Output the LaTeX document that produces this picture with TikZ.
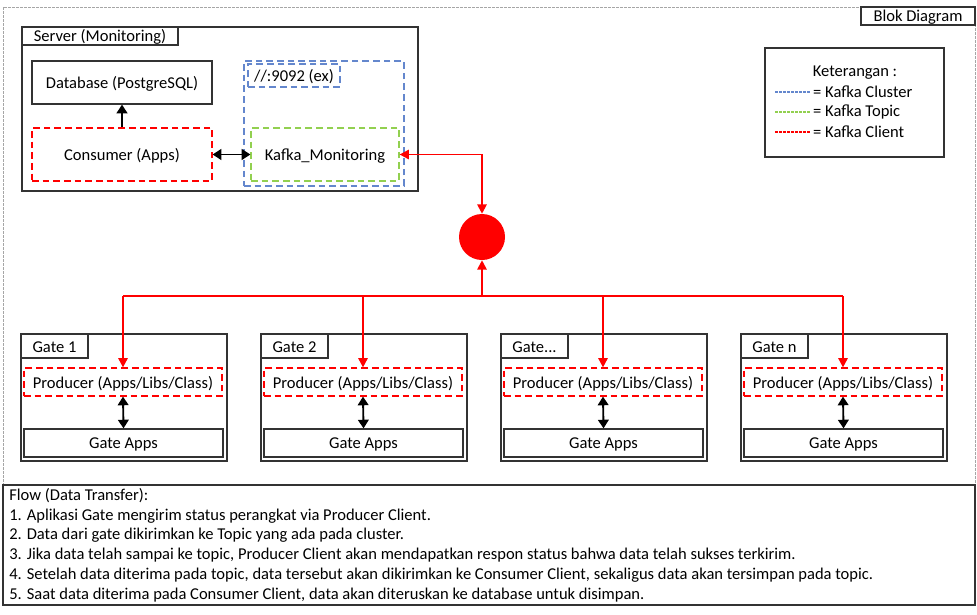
\documentclass[tikz,border=0pt]{standalone}
\usepackage{fontspec}
\setmainfont{Carlito}
\usetikzlibrary{arrows.meta,fit,positioning}

\definecolor{clusterblue}{RGB}{100,135,205}
\definecolor{topicgreen}{RGB}{146,208,80}
\newcommand{\gatemore}{Gate...}

\tikzset{
  box/.style={draw=black!80, line width=0.9pt, inner sep=0pt},
  client/.style={draw=red, dash pattern=on 5pt off 3pt, line width=0.9pt, inner sep=0pt},
  cluster/.style={draw=clusterblue, dash pattern=on 5pt off 3pt, line width=0.9pt, inner sep=0pt},
  topic/.style={draw=topicgreen, dash pattern=on 5pt off 3pt, line width=0.9pt, inner sep=0pt},
  redline/.style={draw=red, line width=1.4pt},
  blkline/.style={draw=black, line width=1.4pt, >={Triangle[length=6.5pt,width=8pt]}},
  legline/.style={line width=0.8pt, dash pattern=on 2.2pt off 0.8pt},
  every label/.append style={yshift=-1pt},
  >={Triangle[length=7pt,width=7pt]}
}

\begin{document}
\begin{tikzpicture}[x=0.75pt, y=-0.75pt, font=\fontsize{12.4pt}{14pt}\selectfont]
\useasboundingbox (0,0) rectangle (977,614);
\draw[black!35, dash pattern=on 2pt off 1pt] (3,7) rectangle (975,605);

\node[box, fit={(861,7) (975,25)}, label={center:Blok Diagram}] (title) {};

% server
\node[box, fit={(22,27) (418,191)}] (server) {};
\node[box, fit={(22,27) (178,45)}, label={center:Server (Monitoring)}] (servertab) {};
\node[box, fit={(32,61) (212,104)}, label={center:Database (PostgreSQL)}] (db) {};
\node[client, fit={(32,128) (212,181)}, label={center:Consumer (Apps)}] (cons) {};
\node[cluster, fit={(244,61) (404,186)}] (kc) {};
\node[cluster, fit={(248,64) (340,87)}, label={center://:9092 (ex)}] (port) {};
\node[topic, fit={(251,128) (399,181)}, label={center:Kafka\_Monitoring}] (km) {};

\draw[blkline,->] (cons.north) -- (db.south);
\draw[blkline,<->] (cons.east) -- (km.west);

% legend
\node[box, fit={(765,48) (944,157)}] (legend) {};
\node (legtitle) at (855,73) {Keterangan :};
\draw[legline, clusterblue] (775,92) -- (810,92) node[right, inner sep=2pt, black] {= Kafka Cluster};
\draw[legline, topicgreen] (775,112) -- (810,112) node[right, inner sep=2pt, black] {= Kafka Topic};
\draw[legline, red] (775,132) -- (810,132) node[right, inner sep=2pt, black] {= Kafka Client};

% hub
\node[circle, fill=red, minimum size=34.5pt, inner sep=0pt] (hub) at (482,237) {};
\coordinate (bus) at (482,296);
\draw[redline,<->] (km.east) -| (hub.north);
\draw[redline,->] (bus) -- (hub.south);

% gates
\foreach \i/\g in {0/Gate 1, 1/Gate 2, 2/\gatemore, 3/Gate n} {
  \pgfmathsetmacro\gx{240*\i}
  \node[box, fit={(21+\gx,334) (227+\gx,461)}] (g\i) {};
  \node[box, fit={(21+\gx,334) (88+\gx,358)}, label={center:\g}] (gt\i) {};
  \node[client, fit={(24+\gx,368) (222+\gx,396)}, label={center:Producer (Apps/Libs/Class)}] (p\i) {};
  \node[box, fit={(24+\gx,429) (223+\gx,457)}, label={center:Gate Apps}] (a\i) {};
  \draw[redline,->] (p\i.north |- bus) -- (p\i.north);
  \draw[blkline,<->] (p\i.south) -- (a\i.north);
}
\draw[redline] (p0.north |- bus) -- (p3.north |- bus);

% flow
\node[box, fit={(3,485) (975,605)}] (flow) {};
\node[anchor=north west, align=left, inner sep=0pt, font=\fontsize{12.4pt}{14.85pt}\selectfont] (flowtext) at (9,488) {Flow (Data Transfer):\\
1. Aplikasi Gate mengirim status perangkat via Producer Client.\\
2. Data dari gate dikirimkan ke Topic yang ada pada cluster.\\
3. Jika data telah sampai ke topic, Producer Client akan mendapatkan respon status bahwa data telah sukses terkirim.\\
4. Setelah data diterima pada topic, data tersebut akan dikirimkan ke Consumer Client, sekaligus data akan tersimpan pada topic.\\
5. Saat data diterima pada Consumer Client, data akan diteruskan ke database untuk disimpan.};
\end{tikzpicture}
\end{document}
